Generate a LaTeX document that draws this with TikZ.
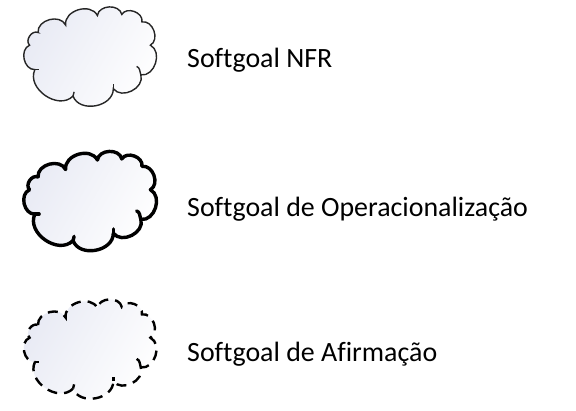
\documentclass[tikz,border=0pt]{standalone}
\usepackage{fontspec}
\setmainfont[Ligatures=NoCommon]{Carlito}
\definecolor{cloudfill}{RGB}{232,234,244}
\tikzset{
  cloudbase/.style={left color=cloudfill, right color=white, shading angle=60},
  thincloud/.style={cloudbase, draw=black!85, line width=1.4pt},
  thickcloud/.style={cloudbase, draw=black, line width=3.4pt, line join=round},
  dashcloud/.style={cloudbase, draw=black, line width=2.4pt, dash pattern=on 10pt off 7pt},
  thincurl/.style={draw=black!85, line width=1.4pt},
  thickcurl/.style={draw=black, line width=3.4pt, line cap=round},
  dashcurl/.style={draw=black, line width=2.4pt},
  lbl/.style={anchor=base west, inner sep=0pt, font=\fontsize{27.9pt}{30pt}\selectfont}
}
\newcommand{\mycloud}[2]{%
  \path[#1] (41,34) to[bend left=80,looseness=1.15] (67,27) to[bend left=80,looseness=1.15] (97,18)
   to[bend left=80,looseness=1.15] (120,17) to[bend left=80,looseness=1.15] (139,24) to[bend left=80,looseness=1.15] (147,46)
   to[bend left=80,looseness=1.15] (138,74) to[bend left=80,looseness=1.15] (112,87) to[bend left=80,looseness=1.15] (74,94)
   to[bend left=80,looseness=1.15] (38,69) to[bend left=80,looseness=1.15] (33,46) to[bend left=80,looseness=1.15] cycle;
  \path[#2] (138,74) to[out=110,in=-20] (134,66);
  \path[#2] (112,87) to[out=100,in=-80] (112,83);
  \path[#2] (74,94) to[out=80,in=-100] (75,90);
  \path[#2] (38,69) to[out=-10,in=180] (42,69);}
\begin{document}
\begin{tikzpicture}[x=1pt,y=-1pt]
\useasboundingbox (0,0) rectangle (576,411);
\begin{scope}[scale around={1.06:(90,59)}]
  \mycloud{thincloud}{thincurl}
\end{scope}
\begin{scope}[yshift=-144.5pt, scale around={1.06:(90,59)}]
  \mycloud{thickcloud}{thickcurl}
\end{scope}
\begin{scope}[yshift=-292.5pt, scale around={1.06:(90,59)}]
  \mycloud{dashcloud}{dashcurl}
\end{scope}
\node[lbl] (t1) at (187,68) {Sof\kern0pt tgoal NFR};
\node[lbl] (t2) at (187,216.5) {Sof\kern0pt tgoal de Operacionalização};
\node[lbl] (t3) at (187,361.5) {Sof\kern0pt tgoal de Afirmação};
\end{tikzpicture}
\end{document}
